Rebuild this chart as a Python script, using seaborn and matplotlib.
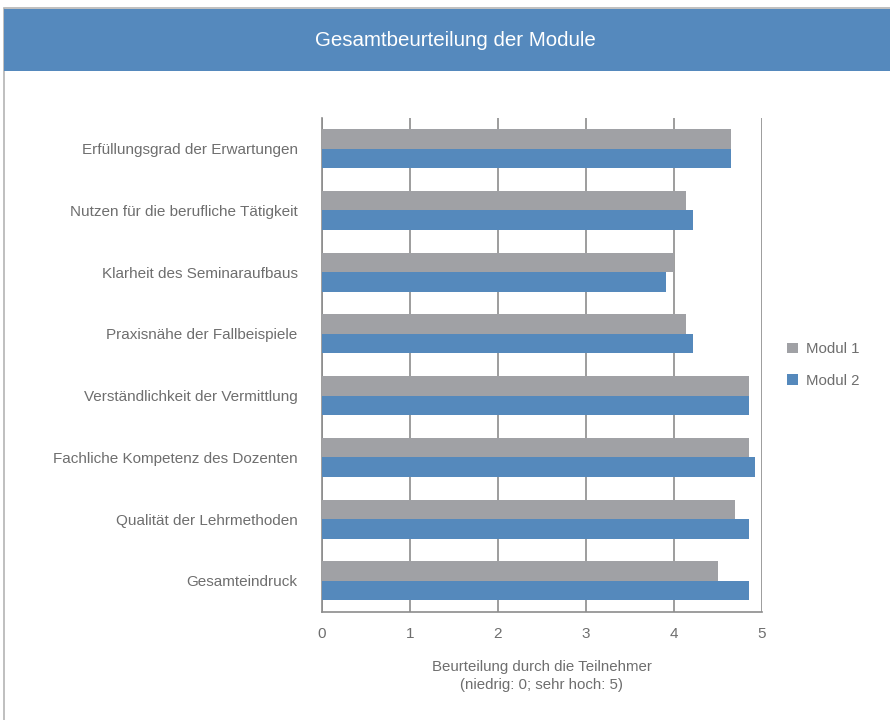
import pandas as pd
import seaborn as sns
import matplotlib.pyplot as plt
from matplotlib.patches import Rectangle

# --- data ---
categories = [
    "Erfüllungsgrad der Erwartungen",
    "Nutzen für die berufliche Tätigkeit",
    "Klarheit des Seminaraufbaus",
    "Praxisnähe der Fallbeispiele",
    "Verständlichkeit der Vermittlung",
    "Fachliche Kompetenz des Dozenten",
    "Qualität der Lehrmethoden",
    "Gesamteindruck",
]
modul_1 = [4.65, 4.14, 4.0, 4.14, 4.85, 4.85, 4.69, 4.5]
modul_2 = [4.65, 4.22, 3.91, 4.22, 4.85, 4.92, 4.85, 4.85]
series_names = ["Modul 1", "Modul 2"]
x_ticks = [0, 1, 2, 3, 4, 5]

df = pd.DataFrame({
    "Kategorie": categories * 2,
    "Wert": modul_1 + modul_2,
    "Modul": [series_names[0]] * len(categories) + [series_names[1]] * len(categories),
})

# --- styling ---
sns.set_style("white")
plt.rcParams["font.family"] = ["Liberation Sans", "DejaVu Sans"]
grey_bar = "#a0a1a5"
blue_bar = "#5589bc"
text_col = "#6e6e6e"
line_col = "#8c8c8c"

fig = plt.figure(figsize=(8.9, 7.2), dpi=100)
W, H = 890, 720

# frame and title banner (behind the axes)
fig.patches.append(Rectangle((4 / W, -0.01), 1.0, 1 - 8 / H + 0.01, transform=fig.transFigure,
                             facecolor="none", edgecolor="#b4b4b4", linewidth=1.2, zorder=-2))
fig.patches.append(Rectangle((4 / W, 1 - 71 / H), 1.0, 62 / H, transform=fig.transFigure,
                             facecolor="#5589bd", edgecolor="none", zorder=-1))
fig.text(455 / W, 1 - 40 / H, "Gesamtbeurteilung der Module", color="white",
         fontsize=14.8, ha="center", va="center")

ax = fig.add_axes([322 / W, 1 - 611.7 / H, 440 / W, 494 / H])
ax.set_zorder(2)
ax.patch.set_alpha(0)
sns.barplot(data=df, x="Wert", y="Kategorie", hue="Modul", order=categories,
            hue_order=series_names, palette=[grey_bar, blue_bar], orient="h",
            width=0.63, saturation=1, linewidth=0, ax=ax, zorder=3, legend=True)

ax.set_xlim(0, 5)
ax.set_xticks(x_ticks)
ax.set_xticklabels([str(t) for t in x_ticks])
ax.set_ylim(len(categories) - 0.5, -0.5)
ax.set_xlabel("Beurteilung durch die Teilnehmer\n(niedrig: 0; sehr hoch: 5)",
              color=text_col, fontsize=10.8, labelpad=14, linespacing=1.3)
ax.set_ylabel("")

# grid and spines
ax.grid(axis="x", color=line_col, linewidth=1.2, zorder=0)
ax.set_axisbelow(True)
for side in ["top", "right"]:
    ax.spines[side].set_visible(False)
for side in ["left", "bottom"]:
    ax.spines[side].set_color(line_col)
    ax.spines[side].set_linewidth(1.2)

ax.tick_params(axis="x", length=6, width=1.2, color=line_col, labelcolor=text_col,
               labelsize=11, pad=5)
ax.tick_params(axis="y", which="major", length=0, labelcolor=text_col, labelsize=11, pad=17.5)
ax.set_yticks([i - 0.5 for i in range(len(categories) + 1)], minor=True)
ax.tick_params(axis="y", which="minor", length=7, width=1.2, color=line_col)

# legend
handles, labels = ax.get_legend_handles_labels()
ax.legend(handles, labels, loc="center left", bbox_to_anchor=(787 / W, 1 - 365 / H),
          bbox_transform=fig.transFigure, frameon=False, fontsize=10.8,
          labelcolor=text_col, handlelength=0.7, handleheight=0.7,
          handletextpad=0.55, labelspacing=1.15, borderpad=0, borderaxespad=0)

fig.savefig("out.png", dpi=100)
plt.close(fig)
